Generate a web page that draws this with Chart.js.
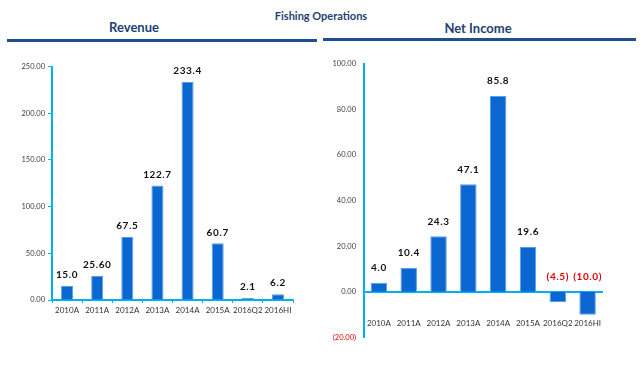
<!DOCTYPE html>
<html>
<head>
<meta charset="utf-8">
<script src="https://cdn.jsdelivr.net/npm/chart.js@4/dist/chart.umd.min.js"></script>
<style>
  body { margin: 0; background: #fff; width: 640px; height: 376px; overflow: hidden; font-family: Lato, sans-serif; }
  .ttl { position: absolute; color: #1f3f73; font-weight: bold; white-space: nowrap; transform: translate(-50%, -50%); }
  .rule { position: absolute; height: 3px; background: #1d4f91; }
  canvas { position: absolute; }
</style>
</head>
<body>
<div class="ttl" style="left:321px;top:15px;font-size:11px">Fishing Operations</div>
<div class="ttl" style="left:134px;top:27px;font-size:13px">Revenue</div>
<div class="ttl" style="left:478px;top:28px;font-size:13px">Net Income</div>
<div class="rule" style="left:7px;top:39px;width:310px"></div>
<div class="rule" style="left:323px;top:38px;width:313px"></div>
<div style="position:absolute;left:0;top:50px;width:320px;height:270px"><canvas id="revChart"></canvas></div>
<div style="position:absolute;left:320px;top:50px;width:320px;height:300px"><canvas id="niChart"></canvas></div>
<script>
var categories = ['2010A', '2011A', '2012A', '2013A', '2014A', '2015A', '2016Q2', '2016HI'];
var revenue = [15.0, 25.6, 67.5, 122.7, 233.4, 60.7, 2.1, 6.2];
var revenueLabels = ['15.0', '25.60', '67.5', '122.7', '233.4', '60.7', '2.1', '6.2'];
var netIncome = [4.0, 10.4, 24.3, 47.1, 85.8, 19.6, -4.5, -10.0];
var netIncomeLabels = ['4.0', '10.4', '24.3', '47.1', '85.8', '19.6', '(4.5)', '(10.0)'];

var barFill = '#0a66d0';
var barEdge = '#5a9ee8';
var axisBlue = '#00b0f0';

// value labels above the bars; negatives sit above the zero line in red
var valueLabels = {
    id: 'valueLabels',
    afterDatasetsDraw: function (chart, args, opts) {
        var ctx = chart.ctx;
        var meta = chart.getDatasetMeta(0);
        var zeroY = chart.scales.y.getPixelForValue(0);
        ctx.save();
        ctx.font = 'bold 10px Lato';
        ctx.letterSpacing = '0.6px';
        ctx.textAlign = 'center';
        ctx.textBaseline = 'bottom';
        meta.data.forEach(function (bar, i) {
            var v = chart.data.datasets[0].data[i];
            if (v < 0) {
                ctx.fillStyle = '#e00000';
                ctx.fillText(opts.labels[i], bar.x, zeroY - opts.gap);
            } else {
                ctx.fillStyle = '#111';
                ctx.fillText(opts.labels[i], bar.x, bar.y - opts.gap);
            }
        });
        ctx.restore();
    }
};

new Chart(document.getElementById('revChart'), {
    type: 'bar',
    data: {
        labels: categories,
        datasets: [{
            data: revenue,
            backgroundColor: barFill,
            borderColor: barEdge,
            borderWidth: 1,
            barPercentage: 0.8,
            categoryPercentage: 0.5
        }]
    },
    options: {
        responsive: true,
        maintainAspectRatio: false,
        animation: false,
        layout: { padding: { top: 16.5, right: 27, left: 0, bottom: 0 } },
        plugins: {
            legend: { display: false },
            tooltip: { enabled: false },
            valueLabels: { labels: revenueLabels, gap: 6 }
        },
        scales: {
            x: {
                afterFit: function (s) { s.height = 20; },
                grid: { drawOnChartArea: false, drawTicks: true, tickLength: 3, color: axisBlue, lineWidth: 1 },
                border: { display: true, color: axisBlue, width: 2 },
                ticks: { color: '#333', font: { family: 'Lato', size: 8 }, padding: 3, maxRotation: 0, autoSkip: false }
            },
            y: {
                min: 0,
                max: 250,
                afterFit: function (s) { s.width = 52; },
                grid: { drawOnChartArea: false, drawTicks: true, tickLength: 4, color: axisBlue },
                border: { display: true, color: axisBlue, width: 2 },
                ticks: {
                    stepSize: 50,
                    color: '#404040',
                    font: { family: 'Lato', size: 7.5 },
                    padding: 3,
                    callback: function (v) { return v.toFixed(2); }
                }
            }
        }
    },
    plugins: [valueLabels]
});

new Chart(document.getElementById('niChart'), {
    type: 'bar',
    data: {
        labels: categories,
        datasets: [{
            data: netIncome,
            backgroundColor: barFill,
            borderColor: barEdge,
            borderWidth: 1,
            barPercentage: 0.8,
            categoryPercentage: 0.69
        }]
    },
    options: {
        responsive: true,
        maintainAspectRatio: false,
        animation: false,
        layout: { padding: { top: 13.5, right: 37.5, left: 0, bottom: 6.5 } },
        plugins: {
            legend: { display: false },
            tooltip: { enabled: false },
            valueLabels: { labels: netIncomeLabels, gap: 10 }
        },
        scales: {
            x: {
                position: { y: 0 },
                afterFit: function (s) { s.height = 0; },
                grid: { display: false, drawTicks: false },
                border: { display: true, color: axisBlue, width: 2 },
                ticks: { color: '#333', font: { family: 'Lato', size: 8 }, padding: 27, maxRotation: 0, autoSkip: false }
            },
            y: {
                min: -20,
                max: 100,
                afterFit: function (s) { s.width = 44; },
                grid: { display: false, drawTicks: false },
                border: { display: true, color: axisBlue, width: 2 },
                ticks: {
                    stepSize: 20,
                    font: { family: 'Lato', size: 7.5 },
                    padding: 8,
                    color: function (c) { return c.tick && c.tick.value < 0 ? '#e00000' : '#404040'; },
                    callback: function (v) { return v < 0 ? '(' + Math.abs(v).toFixed(2) + ')' : v.toFixed(2); }
                }
            }
        }
    },
    plugins: [valueLabels]
});
</script>
</body>
</html>
